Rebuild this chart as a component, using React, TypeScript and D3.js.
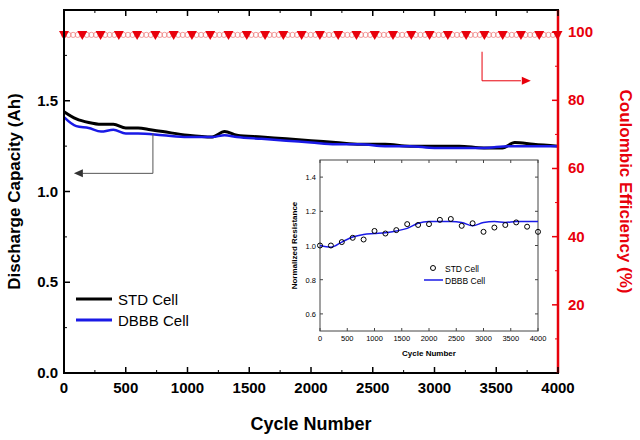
import React from "react"
import * as d3 from "d3"

const stdCycles = [0, 100, 200, 300, 400, 500, 600, 700, 800, 1000, 1200, 1300, 1400, 1600, 1800, 2000, 2200, 2400, 2600, 2800, 3000, 3200, 3400, 3550, 3650, 3800, 4000]
const stdCap = [1.44, 1.4, 1.38, 1.37, 1.37, 1.35, 1.35, 1.34, 1.33, 1.31, 1.3, 1.33, 1.31, 1.3, 1.29, 1.28, 1.27, 1.26, 1.26, 1.25, 1.25, 1.25, 1.24, 1.24, 1.27, 1.26, 1.25]
const dbbbCycles = [0, 100, 200, 300, 400, 500, 600, 800, 1000, 1200, 1300, 1400, 1600, 1800, 2000, 2200, 2400, 2600, 2800, 3000, 3200, 3400, 3600, 3800, 4000]
const dbbbCap = [1.41, 1.36, 1.35, 1.33, 1.34, 1.32, 1.32, 1.31, 1.3, 1.3, 1.31, 1.3, 1.29, 1.28, 1.27, 1.26, 1.26, 1.25, 1.25, 1.24, 1.24, 1.24, 1.25, 1.25, 1.25]
const ceTriCycles = d3.range(0, 4001, 148)
const ceCircCycles = d3.range(0, 4001, 37)

const inStdCycles = [0, 200, 400, 600, 800, 1000, 1200, 1400, 1600, 1800, 2000, 2200, 2400, 2600, 2800, 3000, 3200, 3400, 3600, 3800, 4000]
const inStdRes = [1.0, 1.0, 1.02, 1.045, 1.035, 1.085, 1.07, 1.09, 1.125, 1.12, 1.125, 1.15, 1.155, 1.115, 1.13, 1.08, 1.105, 1.12, 1.135, 1.11, 1.08]
const inDbCycles = [0, 200, 400, 600, 800, 1000, 1200, 1400, 1600, 1800, 2000, 2200, 2400, 2600, 2800, 3000, 3200, 3400, 3600, 3800, 4000]
const inDbRes = [1.0, 0.99, 1.02, 1.05, 1.065, 1.07, 1.075, 1.085, 1.1, 1.13, 1.14, 1.14, 1.14, 1.135, 1.115, 1.135, 1.14, 1.135, 1.14, 1.14, 1.14]

const mainXTicks = [0, 500, 1000, 1500, 2000, 2500, 3000, 3500, 4000]
const leftTicks = [0, 0.5, 1.0, 1.5]
const rightTicks = [20, 40, 60, 80, 100]
const inXTicks = [0, 500, 1000, 1500, 2000, 2500, 3000, 3500, 4000]
const inYTicks = [0.6, 0.8, 1.0, 1.2, 1.4]

const F = "Arial, 'Liberation Sans', sans-serif"

export default function App() {
  const L = 64, R = 558, T = 10, B = 373
  const x = d3.scaleLinear().domain([0, 4000]).range([L, R])
  const yl = d3.scaleLinear().domain([0, 2.0]).range([B, T])
  const yr = d3.scaleLinear().domain([0, 106.5]).range([B, T])
  const line = (xs: number[], ys: number[]) =>
    d3.line<number>().x((_, i) => x(xs[i])).y((d) => yl(d)).curve(d3.curveMonotoneX)(ys) ?? ""

  const iL = 320, iR = 538, iT = 160, iB = 331
  const ix = d3.scaleLinear().domain([0, 4000]).range([iL, iR])
  const iy = d3.scaleLinear().domain([0.5, 1.5]).range([iB, iT])
  const inLine = d3.line<number>().x((_, i) => ix(inDbCycles[i])).y((d) => iy(d)).curve(d3.curveMonotoneX)(inDbRes) ?? ""
  const red = "#e8000b"
  const tri = (cx: number, cy: number) => `M${cx - 5},${cy - 4}L${cx + 5},${cy - 4}L${cx},${cy + 5}Z`

  return (
    <svg width={640} height={440} style={{ position: "absolute", left: 0, top: 0, background: "#fff" }} fontFamily={F}>
      {/* CE markers */}
      {ceCircCycles.map((c, i) => (
        <circle key={"c" + i} cx={x(c)} cy={yr(99.2)} r={2.6} fill="none" stroke="#f08080" strokeWidth={0.8} />
      ))}
      {ceTriCycles.map((c, i) => (
        <path key={"t" + i} d={tri(x(c), yr(99.2))} fill={red} />
      ))}
      {/* capacity */}
      <path d={line(stdCycles, stdCap)} fill="none" stroke="#000" strokeWidth={3} />
      <path d={line(dbbbCycles, dbbbCap)} fill="none" stroke="#1a1ae6" strokeWidth={2.5} />
      {/* frame */}
      <rect x={L} y={T} width={R - L} height={B - T} fill="none" stroke="#000" strokeWidth={2} />
      <line x1={R} x2={R} y1={T} y2={B} stroke={red} strokeWidth={2.5} />
      {mainXTicks.map((t) => (
        <g key={t}>
          <line x1={x(t)} x2={x(t)} y1={B} y2={B - 6} stroke="#000" strokeWidth={1.5} />
          <line x1={x(t)} x2={x(t)} y1={T} y2={T + 6} stroke="#000" strokeWidth={1.5} />
          <text x={x(t)} y={B + 20} textAnchor="middle" fontSize={15} fontWeight="bold">{t}</text>
        </g>
      ))}
      {d3.range(250, 4000, 500).map((t) => (
        <g key={"m" + t}>
          <line x1={x(t)} x2={x(t)} y1={B} y2={B - 3} stroke="#000" />
          <line x1={x(t)} x2={x(t)} y1={T} y2={T + 3} stroke="#000" />
        </g>
      ))}
      {leftTicks.map((t) => (
        <g key={t}>
          <line x1={L} x2={L + 6} y1={yl(t)} y2={yl(t)} stroke="#000" strokeWidth={1.5} />
          <text x={L - 6} y={yl(t) + 5} textAnchor="end" fontSize={15} fontWeight="bold">{t.toFixed(1)}</text>
        </g>
      ))}
      {d3.range(0.25, 2.0, 0.5).map((t) => (
        <line key={"lm" + t} x1={L} x2={L + 3} y1={yl(t)} y2={yl(t)} stroke="#000" />
      ))}
      {rightTicks.map((t) => (
        <g key={t}>
          <line x1={R} x2={R - 6} y1={yr(t)} y2={yr(t)} stroke={red} strokeWidth={1.5} />
          <text x={R + 10} y={yr(t) + 5} fontSize={15} fontWeight="bold" fill={red}>{t}</text>
        </g>
      ))}
      {d3.range(10, 106, 10).filter((t) => t % 20 !== 0).map((t) => (
        <line key={"rm" + t} x1={R} x2={R - 3} y1={yr(t)} y2={yr(t)} stroke={red} />
      ))}
      <text x={(L + R) / 2} y={430} textAnchor="middle" fontSize={18} fontWeight="bold">Cycle Number</text>
      <text transform={`translate(20,${(T + B) / 2}) rotate(-90)`} textAnchor="middle" fontSize={17} fontWeight="bold">Discharge Capacity (Ah)</text>
      <text transform={`translate(620,${(T + B) / 2}) rotate(90)`} textAnchor="middle" fontSize={17} fontWeight="bold" fill={red}>Coulombic Efficiency (%)</text>
      {/* arrows */}
      <polyline points={`${x(720)},${yl(1.32)} ${x(720)},${yl(1.1)} ${x(150)},${yl(1.1)}`} fill="none" stroke="#555" />
      <path d={`M${x(80)},${yl(1.1)}l9,-4l0,8Z`} fill="#333" />
      <polyline points={`${x(3385)},${yl(1.77)} ${x(3385)},${yl(1.61)} ${x(3700)},${yl(1.61)}`} fill="none" stroke={red} />
      <path d={`M${x(3780)},${yl(1.61)}l-9,-4l0,8Z`} fill={red} />
      {/* legend */}
      <line x1={76} x2={112} y1={299} y2={299} stroke="#000" strokeWidth={3} />
      <text x={118} y={305} fontSize={15}>STD Cell</text>
      <line x1={76} x2={112} y1={320} y2={320} stroke="#1a1ae6" strokeWidth={3} />
      <text x={118} y={326} fontSize={15}>DBBB Cell</text>
      {/* inset */}
      <rect x={iL} y={iT} width={iR - iL} height={iB - iT} fill="#fff" stroke="#444" />
      {inXTicks.map((t) => (
        <g key={t}>
          <line x1={ix(t)} x2={ix(t)} y1={iB} y2={iB - 3} stroke="#444" />
          <line x1={ix(t)} x2={ix(t)} y1={iT} y2={iT + 3} stroke="#444" />
          <text x={ix(t)} y={iB + 10} textAnchor="middle" fontSize={7.5}>{t}</text>
        </g>
      ))}
      {inYTicks.map((t) => (
        <g key={t}>
          <line x1={iL} x2={iL + 3} y1={iy(t)} y2={iy(t)} stroke="#444" />
          <line x1={iR} x2={iR - 3} y1={iy(t)} y2={iy(t)} stroke="#444" />
          <text x={iL - 4} y={iy(t) + 3} textAnchor="end" fontSize={7.5}>{t.toFixed(1)}</text>
        </g>
      ))}
      <path d={inLine} fill="none" stroke="#1a1ae6" strokeWidth={1.5} />
      {inStdCycles.map((c, i) => (
        <circle key={c} cx={ix(c)} cy={iy(inStdRes[i])} r={2.5} fill="none" stroke="#000" strokeWidth={1} />
      ))}
      <text x={(iL + iR) / 2} y={356} textAnchor="middle" fontSize={8} fontWeight="bold">Cycle Number</text>
      <text transform={`translate(297,${(iT + iB) / 2}) rotate(-90)`} textAnchor="middle" fontSize={8} fontWeight="bold">Normalized Resistance</text>
      <circle cx={433} cy={268} r={2.5} fill="none" stroke="#000" />
      <text x={445} y={272} fontSize={8.5}>STD Cell</text>
      <line x1={424} x2={443} y1={280} y2={280} stroke="#1a1ae6" strokeWidth={1.5} />
      <text x={445} y={284} fontSize={8.5}>DBBB Cell</text>
    </svg>
  )
}
